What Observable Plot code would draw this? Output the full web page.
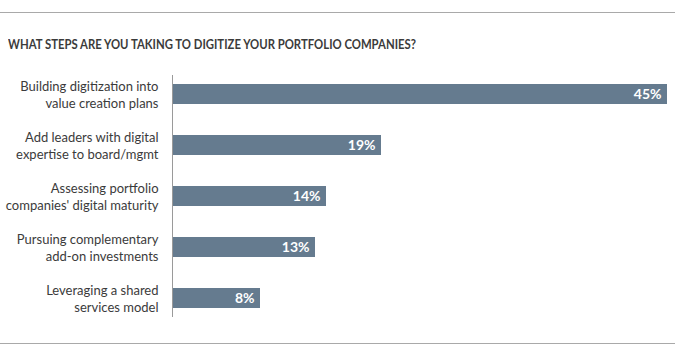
<!DOCTYPE html>
<html>
<head>
<meta charset="utf-8">
<script src="https://cdn.jsdelivr.net/npm/d3@7"></script>
<script src="https://cdn.jsdelivr.net/npm/@observablehq/plot@0.6"></script>
<style>
  html, body { margin: 0; padding: 0; background: #fff; }
  #wrap { position: relative; width: 675px; height: 357px; overflow: hidden; }
  .rule { position: absolute; left: 0; width: 675px; height: 1px; background: #a9a9a9; }
  #title { position: absolute; left: 8px; top: 36px; font-family: Lato, sans-serif; font-weight: 700; font-size: 13.5px; color: #3b3b3b; white-space: nowrap; transform-origin: 0 0; }
  #chart { position: absolute; left: 0; top: 70px; }
</style>
</head>
<body>
<div id="wrap">
  <div class="rule" style="top:12px"></div>
  <div id="title">WHAT STEPS ARE YOU TAKING TO DIGITIZE YOUR PORTFOLIO COMPANIES?</div>
  <div id="chart"></div>
  <div class="rule" style="top:343px"></div>
</div>
<script>
const categories = [
  "Building digitization into\nvalue creation plans",
  "Add leaders with digital\nexpertise to board/mgmt",
  "Assessing portfolio\ncompanies' digital maturity",
  "Pursuing complementary\nadd-on investments",
  "Leveraging a shared\nservices model"
];
const values = [45, 19, 14, 13, 8];
const valueLabels = ["45%", "19%", "14%", "13%", "8%"];

const data = categories.map((c, i) => ({category: c, value: values[i], label: valueLabels[i]}));

const chart = Plot.plot({
  width: 675,
  height: 250,
  marginLeft: 172,
  marginRight: 8,
  marginTop: 5,
  marginBottom: 3,
  style: {fontFamily: "Lato, sans-serif", background: "transparent"},
  x: {domain: [0, 45], axis: null},
  y: {domain: categories, axis: null, paddingInner: 0.6, paddingOuter: 0.15},
  marks: [
    Plot.barX(data, {x: "value", y: "category", fill: "#657b8f"}),
    Plot.ruleX([0], {stroke: "#9a9a9a", strokeWidth: 1}),
    Plot.text(data, {x: 0, y: "category", text: "category", textAnchor: "end", dx: -14, fill: "#3b3b3b", fontSize: 13, lineHeight: 1.3}),
    Plot.text(data, {x: "value", y: "category", text: "label", textAnchor: "end", dx: -6, fill: "#ffffff", fontSize: 14, fontWeight: "bold"})
  ]
});
document.getElementById("chart").appendChild(chart);

// fit title to the reference width
const t = document.getElementById("title");
const w = t.getBoundingClientRect().width;
t.style.transform = `scaleX(${408 / w})`;
</script>
</body>
</html>
